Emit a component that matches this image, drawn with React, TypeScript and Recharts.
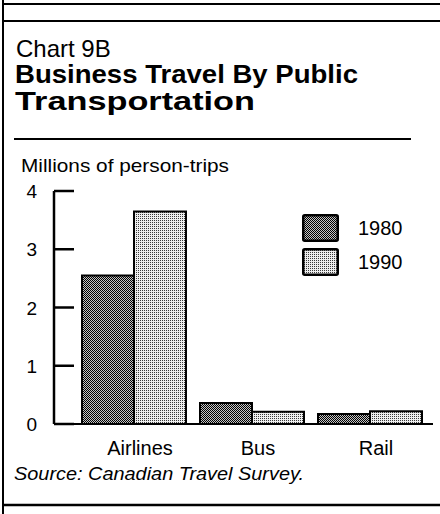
import React from 'react';
import { BarChart, Bar, XAxis, YAxis, Legend } from 'recharts';

const CATEGORIES = ['Airlines', 'Bus', 'Rail'];
const TRIPS_1980 = [2.55, 0.36, 0.17];
const TRIPS_1990 = [3.65, 0.21, 0.22];
const Y_TICKS = [0, 1, 2, 3, 4];
const SERIES = ['1980', '1990'];

const DATA = CATEGORIES.map((name, i) => ({
  name,
  '1980': TRIPS_1980[i],
  '1990': TRIPS_1990[i],
}));

const FONT = '"Liberation Sans", Arial, Helvetica, sans-serif';
const PATTERN = { '1980': 'url(#dots1980)', '1990': 'url(#dots1990)' };

// y tick: label on the left, tick mark drawn inward from the axis line
const YTick = (props: any) => {
  const { x, y, payload } = props;
  return (
    <g>
      <text x={x} y={y} dy={7} textAnchor="end" fontSize={19} fontFamily={FONT} fill="#000">
        {payload.value}
      </text>
      <line x1={x + 17} x2={x + 37} y1={y} y2={y} stroke="#000" strokeWidth={2.5} />
    </g>
  );
};

const XTick = (props: any) => {
  const { x, y, payload } = props;
  return (
    <text x={x + 6} y={y} dy={15} textAnchor="middle" fontSize={20} fontFamily={FONT} fill="#000">
      {payload.value}
    </text>
  );
};

const renderLegend = () => (
  <div style={{ fontFamily: FONT }}>
    {SERIES.map((s) => (
      <div key={s} style={{ display: 'flex', alignItems: 'center', height: 34 }}>
        <svg width={37} height={28} style={{ display: 'block' }}>
          <rect x={1.25} y={1.25} width={34.5} height={25.5} rx={1.5} fill={PATTERN[s]} stroke="#000" strokeWidth={2.5} />
        </svg>
        <span style={{ fontSize: 20, marginLeft: 19, color: '#000' }}>{s}</span>
      </div>
    ))}
  </div>
);

export default function App() {
  return (
    <div style={{ position: 'absolute', left: 0, top: 0, width: 440, height: 514, background: '#fff', fontFamily: FONT }}>
      <BarChart
        width={440}
        height={514}
        data={DATA}
        margin={{ top: 191, right: 7, bottom: 60, left: 14 }}
        barCategoryGap={7}
        barGap={0}
      >
        <defs>
          <pattern id="dots1980" width="2" height="2" patternUnits="userSpaceOnUse">
            <rect width="2" height="2" fill="#c4c4c4" />
            <rect x="0" y="0" width="1" height="1" fill="#000" />
            <rect x="1" y="1" width="1" height="1" fill="#000" />
          </pattern>
          <pattern id="dots1990" width="2" height="2" patternUnits="userSpaceOnUse">
            <rect width="2" height="2" fill="#eeeeee" />
            <rect x="0" y="0" width="1" height="1" fill="#3a3a3a" />
          </pattern>
        </defs>
        <XAxis
          dataKey="name"
          height={30}
          padding={{ left: 21, right: 4 }}
          tickLine={false}
          tickSize={0}
          tickMargin={16}
          tick={<XTick />}
          axisLine={{ stroke: '#000', strokeWidth: 2 }}
        />
        <YAxis
          domain={[0, 4]}
          ticks={Y_TICKS}
          width={40}
          tickLine={false}
          tickSize={0}
          tickMargin={17}
          tick={<YTick />}
          axisLine={{ stroke: '#000', strokeWidth: 2.5 }}
          interval={0}
        />
        <Legend
          layout="vertical"
          align="center"
          verticalAlign="middle"
          content={renderLegend}
          wrapperStyle={{ position: 'absolute', left: 302, top: 211, width: 120, height: 70 }}
        />
        {SERIES.map((s) => (
          <Bar key={s} dataKey={s} fill={PATTERN[s]} stroke="#000" strokeWidth={2} isAnimationActive={false} />
        ))}
      </BarChart>

      <svg width={440} height={514} style={{ position: 'absolute', left: 0, top: 0, pointerEvents: 'none' }}>
        <line x1={3} x2={3} y1={0} y2={514} stroke="#000" strokeWidth={2} />
        <line x1={3} x2={440} y1={4} y2={4} stroke="#000" strokeWidth={2} />
        <line x1={3} x2={440} y1={21} y2={21} stroke="#000" strokeWidth={2} />
        <line x1={3} x2={440} y1={505} y2={505} stroke="#000" strokeWidth={2.5} />
        <text x={16} y={57} fontSize={24} fontFamily={FONT} fill="#000">Chart 9B</text>
        <text x={15} y={83} fontSize={25} fontWeight="bold" fontFamily={FONT} fill="#000" textLength={343} lengthAdjust="spacingAndGlyphs">
          Business Travel By Public
        </text>
        <text x={15} y={110} fontSize={25} fontWeight="bold" fontFamily={FONT} fill="#000" textLength={240} lengthAdjust="spacingAndGlyphs">
          Transportation
        </text>
        <line x1={14} x2={411} y1={139} y2={139} stroke="#000" strokeWidth={2} />
        <text x={21} y={172} fontSize={19} fontFamily={FONT} fill="#000" textLength={208} lengthAdjust="spacingAndGlyphs">
          Millions of person-trips
        </text>
        <text x={14} y={480} fontSize={18} fontStyle="italic" fontFamily={FONT} fill="#000" textLength={290} lengthAdjust="spacingAndGlyphs">
          Source: Canadian Travel Survey.
        </text>
      </svg>
    </div>
  );
}
